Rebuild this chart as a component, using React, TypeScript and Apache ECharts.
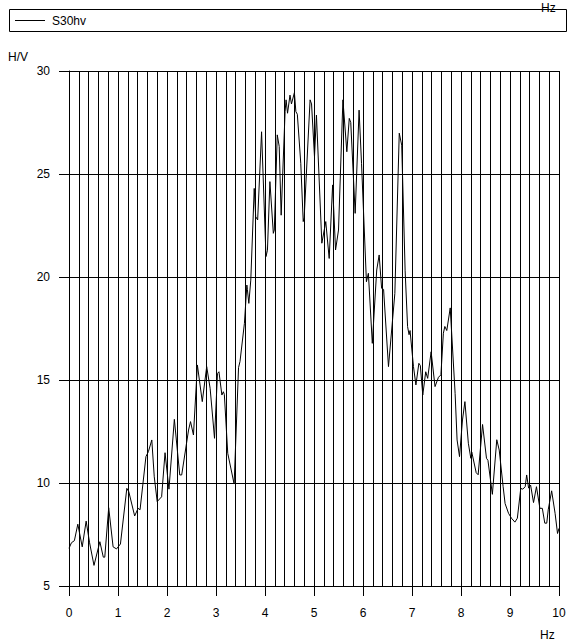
import React, { useEffect, useRef } from "react";
import * as echarts from "echarts";

const seriesName = "S30hv";
const xAxisName = "Hz";
const yAxisName = "H/V";

const freq = [
  0.0, 0.05, 0.11, 0.18, 0.27, 0.35, 0.42, 0.51, 0.63, 0.7, 0.73, 0.81, 0.9, 0.97,
  1.05, 1.18, 1.22, 1.34, 1.41, 1.45, 1.57, 1.62, 1.69, 1.74, 1.8, 1.89, 1.96,
  2.04, 2.15, 2.26, 2.3, 2.44, 2.48, 2.54, 2.62, 2.72, 2.81, 2.88, 2.97,
  3.03, 3.06, 3.12, 3.15, 3.17, 3.24, 3.37, 3.46, 3.49, 3.58, 3.63, 3.64, 3.67, 3.71, 3.78, 3.81, 3.85, 3.93,
  4.02, 4.05, 4.1, 4.17, 4.19, 4.25, 4.29, 4.33, 4.41, 4.43, 4.46, 4.51, 4.54, 4.6, 4.63, 4.66, 4.73, 4.78, 4.8, 4.92, 4.95,
  5.01, 5.05, 5.16, 5.24, 5.31, 5.38, 5.44, 5.5, 5.59, 5.67, 5.72, 5.75, 5.84, 5.92, 5.97,
  6.07, 6.11, 6.19, 6.28, 6.33, 6.38, 6.42, 6.52, 6.65, 6.74, 6.79, 6.86, 6.91, 6.94, 6.96,
  7.03, 7.08, 7.14, 7.17, 7.22, 7.28, 7.32, 7.39, 7.47, 7.54, 7.59, 7.64, 7.67, 7.71, 7.78, 7.88, 7.92, 7.97,
  8.03, 8.08, 8.15, 8.2, 8.22, 8.31, 8.35, 8.44, 8.52, 8.55, 8.64, 8.73, 8.78, 8.86, 8.9, 8.97,
  9.03, 9.1, 9.15, 9.22, 9.26, 9.31, 9.34, 9.38, 9.42, 9.48, 9.54, 9.61, 9.66, 9.71, 9.75, 9.78, 9.85, 9.92, 9.97, 10.0,
];

const hv = [
  6.83, 7.1, 7.2, 8.0, 6.9, 8.15, 7.1, 6.0, 7.15, 6.4, 6.4, 8.8, 6.9, 6.8,
  7.04, 9.74, 9.58, 8.4, 8.77, 8.7, 11.28, 11.52, 12.09, 10.3, 9.1, 9.33, 11.47,
  9.7, 13.09, 10.39, 10.39, 12.57, 12.98, 12.33, 15.73, 13.95, 15.65, 14.6, 12.17,
  15.32, 15.4, 14.27, 14.43, 14.3, 11.44, 9.95, 15.6, 15.9, 17.75, 19.61, 19.4, 18.72, 19.85, 24.3, 22.93, 22.77, 27.05,
  20.99, 21.3, 24.63, 22.12, 22.28, 26.9, 26.34, 23.0, 28.03, 28.6, 27.95, 28.83, 28.4, 28.95, 28.03, 27.9, 25.52, 22.69, 22.9, 28.6, 28.4,
  25.84, 27.86, 21.64, 22.69, 20.9, 24.47, 21.31, 22.28, 28.6, 26.08, 27.7, 27.5, 23.09, 28.1, 25.52,
  19.77, 20.18, 16.78, 20.34, 21.07, 19.45, 19.4, 15.65, 19.2, 26.98, 26.4, 20.3, 17.59, 17.2, 17.4,
  15.65, 14.76, 15.81, 15.7, 14.27, 15.4, 15.08, 16.37, 14.68, 15.13, 15.25, 17.27, 17.6, 17.4, 18.5, 14.35, 12.09, 11.28,
  13.06, 13.95, 11.93, 11.2, 11.5, 10.5, 10.4, 12.84, 11.2, 11.1, 9.45, 12.1, 11.6, 9.82, 9.0, 8.53,
  8.29, 8.1, 8.29, 9.74, 9.7, 9.82, 10.39, 9.75, 9.9, 9.05, 9.82, 8.77, 8.77, 8.05, 8.05, 8.7, 9.62, 8.53, 7.55, 7.8,
];

const FONT = "'Liberation Sans', Arial, sans-serif";

export default function App() {
  const ref = useRef<HTMLDivElement>(null);

  useEffect(() => {
    if (!ref.current) return;
    const chart = echarts.init(ref.current, null, { renderer: "svg" });
    const data = freq.map((f, i) => [f, hv[i]]);
    chart.setOption({
      animation: false,
      backgroundColor: "#fff",
      textStyle: { fontFamily: FONT },
      grid: { left: 69, right: 10, top: 71, bottom: 57, containLabel: false },
      xAxis: {
        type: "value",
        min: 0,
        max: 10,
        interval: 1,
        axisLine: { show: true, lineStyle: { color: "#000", width: 1 } },
        axisTick: { show: true, length: 10, lineStyle: { color: "#000" } },
        axisLabel: { color: "#000", fontSize: 12, margin: 21, fontFamily: FONT },
        splitLine: { show: true, lineStyle: { color: "#000", width: 1 } },
        minorTick: { show: false, splitNumber: 5 },
        minorSplitLine: { show: true, lineStyle: { color: "#000", width: 1 } },
      },
      yAxis: {
        type: "value",
        min: 5,
        max: 30,
        interval: 5,
        axisLine: { show: true, lineStyle: { color: "#000", width: 1 } },
        axisTick: { show: true, length: 10, lineStyle: { color: "#000" } },
        axisLabel: { color: "#000", fontSize: 12, margin: 19, fontFamily: FONT },
        splitLine: { show: true, lineStyle: { color: "#000", width: 1 } },
      },
      series: [
        {
          name: seriesName,
          type: "line",
          data,
          showSymbol: false,
          symbol: "none",
          smooth: false,
          lineStyle: { color: "#000", width: 1 },
          z: 5,
        },
      ],
      graphic: [
        {
          type: "rect",
          shape: { x: 9.5, y: 9.5, width: 557, height: 22 },
          style: { fill: "#fff", stroke: "#000", lineWidth: 1 },
          z: 10,
        },
        {
          type: "line",
          shape: { x1: 15, y1: 20.5, x2: 45, y2: 20.5 },
          style: { stroke: "#000", lineWidth: 1 },
          z: 11,
        },
        {
          type: "text",
          x: 52,
          y: 20.5,
          style: { text: seriesName, font: `12px ${FONT}`, fill: "#000", verticalAlign: "middle" },
          z: 11,
        },
        {
          type: "text",
          x: 541,
          y: 2,
          style: { text: xAxisName, font: `12px ${FONT}`, fill: "#000" },
          z: 12,
        },
        {
          type: "text",
          x: 8,
          y: 51,
          style: { text: yAxisName, font: `12px ${FONT}`, fill: "#000" },
          z: 11,
        },
        {
          type: "text",
          x: 540,
          y: 629,
          style: { text: xAxisName, font: `12px ${FONT}`, fill: "#000" },
          z: 11,
        },
      ],
    });
    return () => chart.dispose();
  }, []);

  return (
    <div
      ref={ref}
      style={{ position: "absolute", left: 0, top: 0, width: 569, height: 643 }}
    />
  );
}
